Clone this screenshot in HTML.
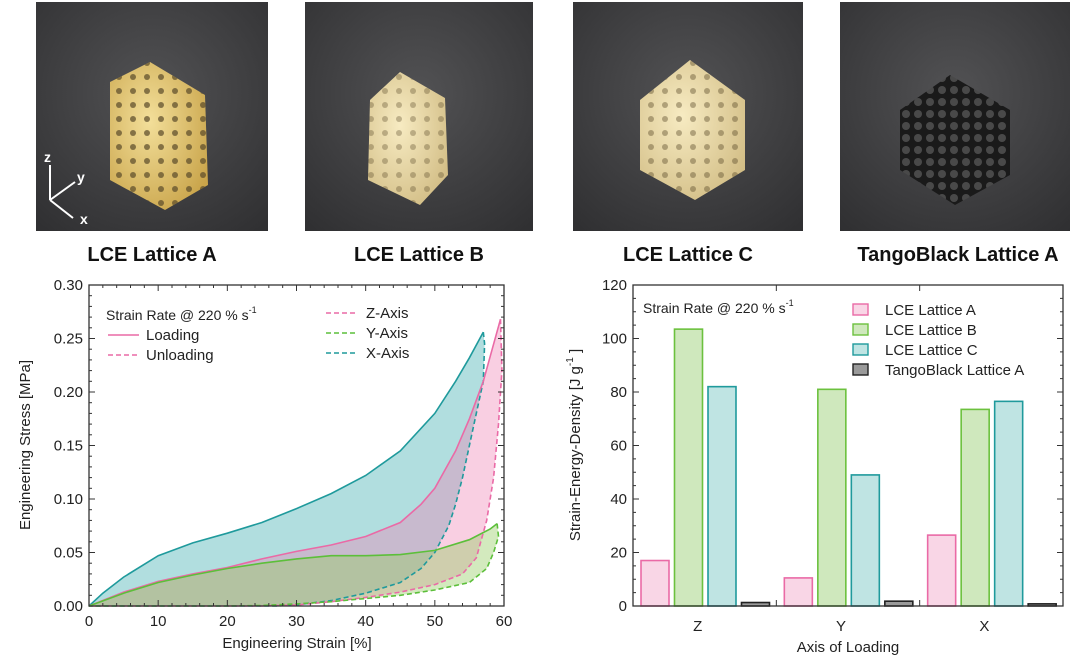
<!DOCTYPE html>
<html><head><meta charset="utf-8"><style>
body{margin:0;background:#fff;width:1080px;height:661px;overflow:hidden;font-family:"Liberation Sans",sans-serif}
svg{position:absolute;left:0;top:0}
</style></head><body>
<svg id="fig" width="1080" height="661" viewBox="0 0 1080 661">
<defs>
<radialGradient id="bg" cx="0.5" cy="0.4" r="0.8"><stop offset="0" stop-color="#525254"/><stop offset="1" stop-color="#2e2e30"/></radialGradient>
<radialGradient id="yel" cx="0.4" cy="0.4" r="0.7"><stop offset="0" stop-color="#f3df9a"/><stop offset="1" stop-color="#c9a44a"/></radialGradient>
<radialGradient id="cream" cx="0.4" cy="0.4" r="0.7"><stop offset="0" stop-color="#f7ebc2"/><stop offset="1" stop-color="#d2bd85"/></radialGradient>
<pattern id="holes" width="14" height="14" patternUnits="userSpaceOnUse"><circle cx="7" cy="7" r="3" fill="#5a4a2a" opacity="0.7"/></pattern>
<pattern id="hex" width="12" height="12" patternUnits="userSpaceOnUse"><rect width="12" height="12" fill="#1a1a1a"/><circle cx="6" cy="6" r="4" fill="#555" opacity="0.8"/></pattern>
</defs>
<g>
<rect x="36" y="2" width="232" height="229" fill="url(#bg)"/>
<path d="M110 82 L150 62 L205 95 L208 185 L165 210 L110 180 Z" fill="url(#yel)"/>
<path d="M110 82 L150 62 L205 95 L208 185 L165 210 L110 180 Z" fill="url(#holes)"/>
<g stroke="#fff" stroke-width="2" fill="none">
<line x1="50" y1="200" x2="50" y2="165"/><line x1="50" y1="200" x2="75" y2="182"/><line x1="50" y1="200" x2="73" y2="218"/></g>
<text x="44" y="162" fill="#fff" font-size="14" font-weight="bold">z</text>
<text x="77" y="182" fill="#fff" font-size="14" font-weight="bold">y</text>
<text x="80" y="224" fill="#fff" font-size="14" font-weight="bold">x</text>
</g>
<g>
<rect x="305" y="2" width="228" height="229" fill="url(#bg)"/>
<path d="M370 100 L400 72 L445 98 L448 175 L420 205 L368 180 Z" fill="url(#cream)"/>
<path d="M370 100 L400 72 L445 98 L448 175 L420 205 L368 180 Z" fill="url(#holes)" opacity="0.5"/>
</g>
<g>
<rect x="573" y="2" width="230" height="229" fill="url(#bg)"/>
<path d="M640 100 L690 60 L745 100 L745 170 L695 200 L640 170 Z" fill="url(#cream)"/>
<path d="M640 100 L690 60 L745 100 L745 170 L695 200 L640 170 Z" fill="url(#holes)" opacity="0.6"/>
</g>
<g>
<rect x="840" y="2" width="230" height="229" fill="url(#bg)"/>
<path d="M900 110 L950 75 L1010 110 L1010 175 L955 205 L900 170 Z" fill="url(#hex)"/>
</g>
<g font-weight="bold" font-size="20" text-anchor="middle" fill="#111">
<text x="152" y="261">LCE Lattice A</text>
<text x="419" y="261">LCE Lattice B</text>
<text x="688" y="261">LCE Lattice C</text>
<text x="958" y="261">TangoBlack Lattice A</text>
</g>
<g id="left"></g>
<g id="right"></g>
</svg>
<script>
const NS="http://www.w3.org/2000/svg";
function mk(p,t,a,txt){const e=document.createElementNS(NS,t);for(const k in a)e.setAttribute(k,a[k]);if(txt!==undefined)e.textContent=txt;p.appendChild(e);return e;}

// ---------- Left chart data ----------
const xTicks=[0,10,20,30,40,50,60];
const yTicks=[0,0.05,0.10,0.15,0.20,0.25,0.30];
const yTickLabels=["0.00","0.05","0.10","0.15","0.20","0.25","0.30"];
const xLoadStrain=[0,2,5,10,15,20,25,30,35,40,45,50,53,55,57];
const xLoadStress=[0,0.012,0.027,0.047,0.059,0.068,0.078,0.091,0.105,0.122,0.145,0.18,0.21,0.232,0.256];
const xUnloadStrain=[57,57.2,57,56,55,54,53,52,50,48,45,40,35,30,27,0];
const xUnloadStress=[0.256,0.245,0.21,0.18,0.15,0.12,0.095,0.075,0.05,0.035,0.022,0.012,0.005,0.001,0,0];
const zLoadStrain=[0,5,10,15,20,25,30,35,40,45,48,50,53,55,57,59.5];
const zLoadStress=[0,0.013,0.023,0.03,0.036,0.044,0.051,0.057,0.065,0.078,0.095,0.11,0.145,0.175,0.21,0.268];
const zUnloadStrain=[59.5,59.7,59.2,58.5,57.5,56,54,50,45,40,35,30,25,0];
const zUnloadStress=[0.268,0.22,0.17,0.12,0.08,0.045,0.03,0.02,0.013,0.008,0.004,0.001,0,0];
const yLoadStrain=[0,5,10,15,20,25,30,35,40,45,50,55,58,59];
const yLoadStress=[0,0.012,0.022,0.029,0.035,0.04,0.044,0.047,0.047,0.048,0.052,0.062,0.072,0.077];
const yUnloadStrain=[59,59.2,58.5,57.5,55,50,45,40,35,30,25,20,0];
const yUnloadStress=[0.077,0.065,0.05,0.035,0.022,0.015,0.01,0.007,0.004,0.002,0.0005,0,0];

// ---------- Right chart data ----------
const axes=["Z","Y","X"];
const seriesNames=["LCE Lattice A","LCE Lattice B","LCE Lattice C","TangoBlack Lattice A"];
const latticeA=[17,10.5,26.5];
const latticeB=[103.5,81,73.5];
const latticeC=[82,49,76.5];
const tangoBlack=[1.3,1.8,0.8];
const barTicks=[0,20,40,60,80,100,120];

function noteText(g,x,y,name){
 const t=mk(g,'text',{x:x,y:y,'font-size':14,fill:'#222'});
 
 
 mk(t,'tspan',{},'Strain Rate @ 220 % s');
 mk(t,'tspan',{'font-size':9,dy:-7},'-1');
 return t;
}

(function(){
const g=document.getElementById('left');
const L=89,R=504,T=285,B=606;
const sx=v=>L+(v-0)/60*(R-L), sy=v=>B-v/0.30*(B-T);
function pts(xs,ys){return xs.map((x,i)=>sx(x).toFixed(1)+","+sy(ys[i]).toFixed(1));}
const series=[
 {n:"x-axis",c:"#1f9a9c",f:"rgba(100,190,192,0.5)",ls:xLoadStrain,lv:xLoadStress,us:xUnloadStrain,uv:xUnloadStress},
 {n:"z-axis",c:"#ea6aa6",f:"rgba(240,130,180,0.38)",ls:zLoadStrain,lv:zLoadStress,us:zUnloadStrain,uv:zUnloadStress},
 {n:"y-axis",c:"#5cbf3a",f:"rgba(150,205,100,0.42)",ls:yLoadStrain,lv:yLoadStress,us:yUnloadStrain,uv:yUnloadStress}];
series.forEach(s=>{
 const a=mk(g,'polygon',{points:pts(s.ls,s.lv).concat(pts(s.us,s.uv)).join(' '),fill:s.f,stroke:'none'});
 
 
});
series.forEach(s=>{
 const l=mk(g,'polyline',{points:pts(s.ls,s.lv).join(' '),fill:'none',stroke:s.c,'stroke-width':1.6});
 
 
 const u=mk(g,'polyline',{points:pts(s.us,s.uv).join(' '),fill:'none',stroke:s.c,'stroke-width':1.6,'stroke-dasharray':'5,3'});
 
 
});
mk(g,'rect',{x:L,y:T,width:R-L,height:B-T,fill:'none',stroke:'#333','stroke-width':1.3});
for(let v=0;v<=60;v+=2){const maj=v%10===0,len=maj?6:3,x=sx(v);
 mk(g,'line',{x1:x,y1:B,x2:x,y2:B-len,stroke:'#333'});mk(g,'line',{x1:x,y1:T,x2:x,y2:T+len,stroke:'#333'});}
for(let i=0;i<=30;i++){const v=i/100,maj=i%5===0,len=maj?6:3,y=sy(v);
 mk(g,'line',{x1:L,y1:y,x2:L+len,y2:y,stroke:'#333'});mk(g,'line',{x1:R,y1:y,x2:R-len,y2:y,stroke:'#333'});}
xTicks.forEach(v=>{const t=mk(g,'text',{x:sx(v),y:B+20,'font-size':15,'text-anchor':'middle',fill:'#222'},String(v));
 });
yTicks.forEach((v,i)=>{const t=mk(g,'text',{x:L-6,y:sy(v)+5,'font-size':15,'text-anchor':'end',fill:'#222'},yTickLabels[i]);
 });
let t=mk(g,'text',{x:297,y:648,'font-size':15,'text-anchor':'middle',fill:'#222'},'Engineering Strain [%]');

t=mk(g,'text',{x:30,y:445,'font-size':15,'text-anchor':'middle',fill:'#222',transform:'rotate(-90 30 445)'},'Engineering Stress [MPa]');

noteText(g,106,320,'strain-rate-note');
const leg=[[108,335,'#ea6aa6',null,'Loading',146],[108,355,'#ea6aa6','5,3','Unloading',146],[326,313,'#ea6aa6','5,3','Z-Axis',366],[326,333,'#5cbf3a','5,3','Y-Axis',366],[326,353,'#1f9a9c','5,3','X-Axis',366]];
leg.forEach(e=>{const a={x1:e[0],y1:e[1],x2:e[0]+31,y2:e[1],stroke:e[2],'stroke-width':1.6};if(e[3])a['stroke-dasharray']=e[3];
 const ln=mk(g,'line',a);
 const tx=mk(g,'text',{x:e[5],y:e[1]+5,'font-size':15,fill:'#222'},e[4]);
 });
})();

(function(){
const g=document.getElementById('right');
const L=633,R=1063,T=285,B=606;
const sy=v=>B-v/120*(B-T);
const slot=(R-L)/3;
const cols=[["#f9d6e6","#ea6aa6"],["#cfe8bd","#6cc13e"],["#bfe4e3","#1f9a9c"],["#9a9a9a","#222"]];
const data=[latticeA,latticeB,latticeC,tangoBlack];
data.forEach((arr,si)=>arr.forEach((v,ci)=>{
 const x=L+ci*slot+8+si*33.5;
 const r=mk(g,'rect',{x:x,y:sy(v),width:28,height:B-sy(v),fill:cols[si][0],stroke:cols[si][1],'stroke-width':1.6});
 
 
}));
mk(g,'rect',{x:L,y:T,width:R-L,height:B-T,fill:'none',stroke:'#333','stroke-width':1.3});
for(let v=0;v<=120;v+=5){const maj=v%20===0,len=maj?6:3,y=sy(v);
 mk(g,'line',{x1:L,y1:y,x2:L+len,y2:y,stroke:'#333'});mk(g,'line',{x1:R,y1:y,x2:R-len,y2:y,stroke:'#333'});}
for(let i=1;i<3;i++){const x=L+i*slot;mk(g,'line',{x1:x,y1:B,x2:x,y2:B-6,stroke:'#333'});mk(g,'line',{x1:x,y1:T,x2:x,y2:T+6,stroke:'#333'});}
barTicks.forEach(v=>{const t=mk(g,'text',{x:L-6,y:sy(v)+5,'font-size':15,'text-anchor':'end',fill:'#222'},String(v));
 });
axes.forEach((a,i)=>{const t=mk(g,'text',{x:L+(i+0.5)*slot-7,y:631,'font-size':15,'text-anchor':'middle',fill:'#222'},a);
 });
let t=mk(g,'text',{x:848,y:652,'font-size':15,'text-anchor':'middle',fill:'#222'},'Axis of Loading');

t=mk(g,'text',{x:580,y:445,'font-size':15,'text-anchor':'middle',fill:'#222',transform:'rotate(-90 580 445)'});

mk(t,'tspan',{},'Strain-Energy-Density [J g');
mk(t,'tspan',{'font-size':10,dy:-7},'-1');
mk(t,'tspan',{dy:7},' ]');
noteText(g,643,313,'strain-rate-note');
seriesNames.forEach((n,i)=>{const y=310+i*20;
 const r=mk(g,'rect',{x:853,y:y-6,width:15,height:11,fill:cols[i][0],stroke:cols[i][1],'stroke-width':1.4});
 
 const tx=mk(g,'text',{x:885,y:y+5,'font-size':15,fill:'#222'},n);
 });
})();
</script>
</body></html>
